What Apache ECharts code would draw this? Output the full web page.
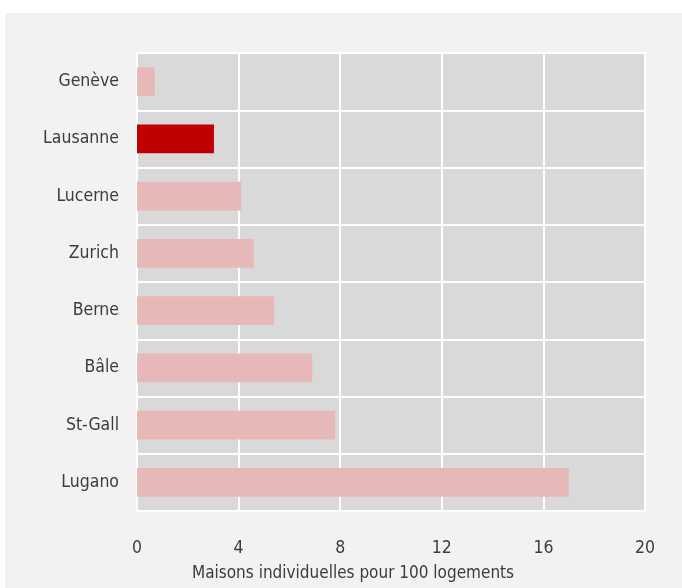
<!DOCTYPE html>
<html>
	<head>
		<meta charset="UTF-8">
		<title>Maisons individuelles</title>
		<script src="https://cdn.jsdelivr.net/npm/echarts@6/dist/echarts.min.js"></script>
		<style>
			body { margin: 0; background: #ffffff; }
		</style>
	</head>
	<body>
		<div id="main" style="width: 682px;height:588px;"></div>
		<script type="text/javascript">
		// données (de haut en bas)
		var villes = ['Genève', 'Lausanne', 'Lucerne', 'Zurich', 'Berne', 'Bâle', 'St-Gall', 'Lugano'];
		var valeurs = [0.7, 3.03, 4.1, 4.6, 5.4, 6.9, 7.8, 17.0];
		var miseEnAvant = 'Lausanne';
		var ticksX = [0, 4, 8, 12, 16, 20];

		var police = "'DejaVu Sans Condensed', 'Liberation Sans', Arial, sans-serif";

		var myChart = echarts.init(document.getElementById('main'));
		var option = {
			backgroundColor: '#ffffff',
			animation: false,
			graphic: [
				{
					type: 'rect', z: -10,
					shape: { x: 5, y: 13, width: 682, height: 588 },
					style: { fill: '#f2f2f2' }
				},
				{
					type: 'text',
					x: 353, y: 574,
					style: {
						text: 'Maisons individuelles pour 100 logements',
						fill: '#3c3c3c', font: '17px ' + police,
						textAlign: 'center', textVerticalAlign: 'middle'
					}
				}
			],
			grid: {
				left: 137, right: 37, top: 53, bottom: 77,
				show: true,
				backgroundColor: '#d9d9d9',
				borderColor: '#ffffff',
				borderWidth: 2
			},
			xAxis: {
				type: 'value',
				min: ticksX[0],
				max: ticksX[ticksX.length - 1],
				interval: 4,
				axisLine: { show: false },
				axisTick: { show: false },
				axisLabel: { color: '#3c3c3c', fontSize: 17.5, fontFamily: police, margin: 28 },
				splitLine: { lineStyle: { color: '#ffffff', width: 2 } }
			},
			yAxis: {
				type: 'category',
				inverse: true,
				data: villes,
				axisLine: { show: false },
				axisTick: { show: false },
				axisLabel: { color: '#3c3c3c', fontSize: 17.5, fontFamily: police, margin: 18 },
				splitLine: { show: true, lineStyle: { color: '#ffffff', width: 2 } }
			},
			series: [{
				type: 'bar',
				barWidth: '50%',
				data: villes.map(function (v, i) {
					return {
						value: valeurs[i],
						itemStyle: { color: v === miseEnAvant ? '#c00000' : '#e6b8b8' }
					};
				})
			}]
		};
		myChart.setOption(option);
		</script>
	</body>
</html>
